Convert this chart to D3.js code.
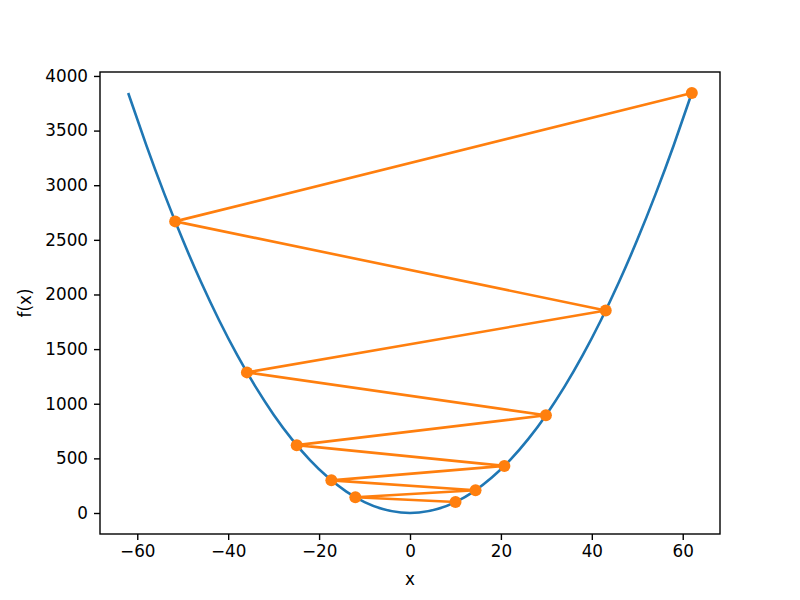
<!DOCTYPE html>
<html>
<head>
<meta charset="utf-8">
<script src="https://cdn.jsdelivr.net/npm/d3@7"></script>
<style>
  body { margin: 0; background: #fff; }
  svg text { font-family: "DejaVu Sans", sans-serif; font-size: 16.8px; fill: #000; }
</style>
</head>
<body>
<div id="chart"></div>
<script>
// f(x) curve
var curveX = [-62, -58, -54, -50, -46, -42, -38, -34, -30, -26, -22, -18, -14, -10, -6, -2,
              2, 6, 10, 14, 18, 22, 26, 30, 34, 38, 42, 46, 50, 54, 58, 62];
var curveY = [3844, 3364, 2916, 2500, 2116, 1764, 1444, 1156, 900, 676, 484, 324, 196, 100, 36, 4,
              4, 36, 100, 196, 324, 484, 676, 900, 1156, 1444, 1764, 2116, 2500, 2916, 3364, 3844];

// descent steps
var stepX = [62, -51.67, 43.06, -35.88, 29.9, -24.92, 20.76, -17.3, 14.42, -12.02, 10.01];
var stepY = [3844, 2669, 1854, 1287, 894, 621, 431, 299, 208, 144, 100];

var xTicks = [-60, -40, -20, 0, 20, 40, 60];
var yTicks = [0, 500, 1000, 1500, 2000, 2500, 3000, 3500, 4000];

var totwidth = 800, totheight = 600,
    margin = {left: 100, right: 80, top: 72, bottom: 66},
    width = totwidth - margin.left - margin.right,
    height = totheight - margin.top - margin.bottom;

var svg = d3.select("#chart").append("svg")
    .attr("width", totwidth)
    .attr("height", totheight);

var xScale = d3.scaleLinear().domain([-68.2, 68.2]).range([margin.left, margin.left + width]);
var yScale = d3.scaleLinear().domain([-192.2, 4036.2]).range([margin.top + height, margin.top]);

var curveData = curveX.map(function(x, i) { return [x, curveY[i]]; });
var stepData = stepX.map(function(x, i) { return [x, stepY[i]]; });

svg.append("clipPath").attr("id", "plotclip")
    .append("rect")
      .attr("x", margin.left).attr("y", margin.top)
      .attr("width", width).attr("height", height);

var plot = svg.append("g").attr("clip-path", "url(#plotclip)");

// blue curve
plot.append("path")
    .datum(curveData)
    .attr("fill", "none")
    .attr("stroke", "#1f77b4")
    .attr("stroke-width", 2.6)
    .attr("stroke-linejoin", "round")
    .attr("d", d3.line()
        .x(function(d) { return xScale(d[0]); })
        .y(function(d) { return yScale(d[1]); })
        .curve(d3.curveNatural));

// orange zigzag
plot.append("path")
    .datum(stepData)
    .attr("fill", "none")
    .attr("stroke", "#ff7f0e")
    .attr("stroke-width", 2.6)
    .attr("stroke-linejoin", "round")
    .attr("d", d3.line()
        .x(function(d) { return xScale(d[0]); })
        .y(function(d) { return yScale(d[1]); }));

svg.append("g").selectAll("circle")
    .data(stepData)
    .enter()
    .append("circle")
      .attr("cx", function(d) { return xScale(d[0]); })
      .attr("cy", function(d) { return yScale(d[1]); })
      .attr("r", 6)
      .attr("fill", "#ff7f0e");

// axes
var xAxis = svg.append("g")
    .attr("transform", "translate(0," + (margin.top + height) + ")")
    .call(d3.axisBottom(xScale).tickValues(xTicks).tickSize(6).tickPadding(5)
        .tickFormat(function(d) { return d < 0 ? "\u2212" + Math.abs(d) : d; }));

var yAxis = svg.append("g")
    .attr("transform", "translate(" + margin.left + ",0)")
    .call(d3.axisLeft(yScale).tickValues(yTicks).tickSize(6).tickPadding(6)
        .tickFormat(d3.format("d")));

[xAxis, yAxis].forEach(function(a) {
  a.select(".domain").remove();
  a.selectAll("line").attr("stroke", "#000").attr("stroke-width", 1.4);
  a.selectAll("text").style("font-size", "16.8px").style("font-family", "DejaVu Sans, sans-serif");
});

// frame
svg.append("rect")
    .attr("x", margin.left).attr("y", margin.top)
    .attr("width", width).attr("height", height)
    .attr("fill", "none")
    .attr("stroke", "#000")
    .attr("stroke-width", 1.4);

svg.append("text")
    .attr("x", margin.left + width / 2)
    .attr("y", 585)
    .attr("text-anchor", "middle")
    .text("x");

svg.append("text")
    .attr("transform", "translate(31," + (margin.top + height / 2) + ") rotate(-90)")
    .attr("text-anchor", "middle")
    .text("f(x)");
</script>
</body>
</html>
